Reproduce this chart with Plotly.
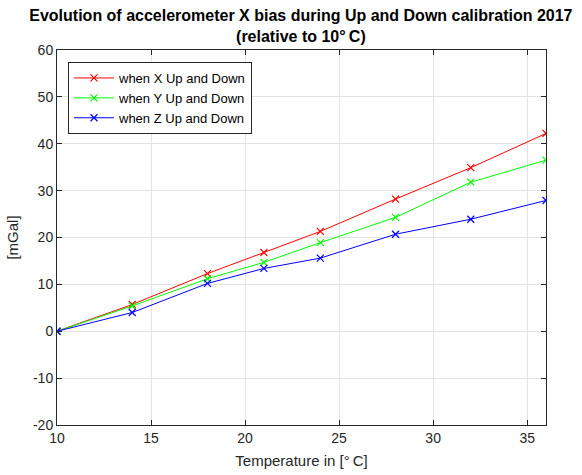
import plotly.graph_objects as go

temps = [10, 14, 18, 21, 24, 28, 32, 36]
x_updown = [0, 5.7, 12.3, 16.8, 21.3, 28.2, 34.9, 42.2]
y_updown = [0, 5.4, 11.2, 14.7, 18.9, 24.3, 31.8, 36.5]
z_updown = [0, 4.0, 10.2, 13.4, 15.6, 20.7, 23.9, 27.9]

names = ["when X Up and Down", "when Y Up and Down", "when Z Up and Down"]
colors = ["#ff0000", "#00ff00", "#0000ff"]
series = [x_updown, y_updown, z_updown]

x_ticks = [10, 15, 20, 25, 30, 35]
y_ticks = [-20, -10, 0, 10, 20, 30, 40, 50, 60]
y_ticklabels = ["-20", "-10", "0", "10", "20", "30", "40", "50", "60"]

fig = go.Figure()
for name, color, vals in zip(names, colors, series):
    fig.add_trace(go.Scatter(
        x=temps, y=vals, name=name, mode="lines+markers",
        line=dict(color=color, width=1),
        marker=dict(symbol="x-thin", size=7, line=dict(color=color, width=1.2), color=color),
    ))

axis_color = "#262626"
common = dict(
    showline=True, linecolor=axis_color, linewidth=1, mirror="ticks",
    ticks="inside", ticklen=5, tickcolor=axis_color, tickwidth=1,
    showgrid=True, gridcolor="#e3e3e3", gridwidth=1, zeroline=False,
    tickfont=dict(size=14, color=axis_color),
    title_font=dict(size=15, color=axis_color),
    automargin=False,
)

fig.update_layout(
    width=582, height=475,
    margin=dict(l=57, r=36, t=50, b=50),
    paper_bgcolor="white", plot_bgcolor="white",
    font=dict(family="Liberation Sans, Arial, sans-serif", color=axis_color),
    title=dict(
        text="<b>Evolution of accelerometer X bias during Up and Down calibration 2017<br>(relative to 10°\u2009C)</b>",
        x=0.517, xanchor="center", yref="container", y=0.955, yanchor="top",
        font=dict(size=16, color="black"),
    ),
    xaxis=dict(range=[10, 36], tickvals=x_ticks,
               title=dict(text="Temperature in [°\u2009C]", standoff=10), **common),
    yaxis=dict(range=[-20, 60], tickvals=y_ticks, ticktext=y_ticklabels,
               title=dict(text="[mGal]", standoff=10), **common),
    legend=dict(x=0.0225, y=0.968, xanchor="left", yanchor="top",
                bgcolor="white", bordercolor=axis_color, borderwidth=1,
                font=dict(size=13, color="black"), tracegroupgap=0,
                itemwidth=40),
    showlegend=True,
)

fig.write_html("out.html")
